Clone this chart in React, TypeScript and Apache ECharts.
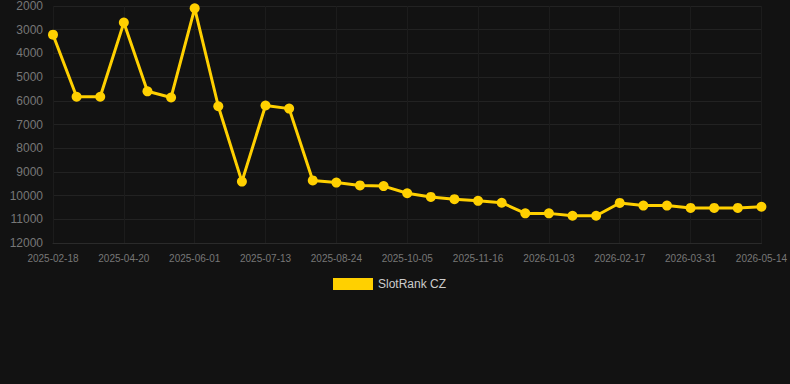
import React, { useEffect, useRef } from "react";
import * as echarts from "echarts";

const categories = [
  "2025-02-18", "2025-03-09", "2025-03-30", "2025-04-20", "2025-05-04", "2025-05-18",
  "2025-06-01", "2025-06-15", "2025-06-29", "2025-07-13", "2025-07-27", "2025-08-10",
  "2025-08-24", "2025-09-07", "2025-09-21", "2025-10-05", "2025-10-19", "2025-11-02",
  "2025-11-16", "2025-11-30", "2025-12-14", "2026-01-03", "2026-01-18", "2026-02-02",
  "2026-02-17", "2026-03-03", "2026-03-17", "2026-03-31", "2026-04-14", "2026-04-28",
  "2026-05-14",
];

const rankValues = [
  3210, 5830, 5830, 2700, 5600, 5860,
  2100, 6230, 9410, 6200, 6330, 9360,
  9450, 9570, 9600, 9900, 10055, 10150,
  10220, 10300, 10750, 10750, 10850, 10850,
  10310, 10420, 10420, 10520, 10520, 10520,
  10470,
];

const seriesName = "SlotRank CZ";

export default function App() {
  const ref = useRef<HTMLDivElement>(null);
  useEffect(() => {
    document.body.style.margin = "0";
    document.body.style.background = "#121212";
    if (!ref.current) return;
    const chart = echarts.init(ref.current, null, { renderer: "svg" });
    chart.setOption({
      animation: false,
      backgroundColor: "#121212",
      textStyle: { fontFamily: "Arial, 'Liberation Sans', sans-serif" },
      grid: { left: 53, right: 28, top: 6, bottom: 141 },
      legend: {
        top: 273,
        left: 328,
        itemWidth: 40,
        itemHeight: 12,
        icon: "rect",
        textStyle: { color: "#cccccc", fontSize: 12 },
        data: [seriesName],
      },
      xAxis: {
        type: "category",
        data: categories,
        boundaryGap: false,
        axisLine: { lineStyle: { color: "#2a2a2a" } },
        axisTick: { show: false },
        axisLabel: { color: "#777777", fontSize: 10, interval: 2, margin: 10, showMaxLabel: true },
        splitLine: { show: true, interval: 2, lineStyle: { color: "#1c1c1c" } },
      },
      yAxis: {
        type: "value",
        inverse: true,
        min: 2000,
        max: 12000,
        interval: 1000,
        axisLine: { show: false },
        axisTick: { show: false },
        axisLabel: { color: "#777777", fontSize: 12, margin: 10, formatter: (v: number) => String(v) },
        splitLine: { lineStyle: { color: "#222222" } },
      },
      series: [
        {
          name: seriesName,
          type: "line",
          data: rankValues,
          symbol: "circle",
          symbolSize: 10,
          lineStyle: { color: "#FFD000", width: 3 },
          itemStyle: { color: "#FFD000" },
        },
      ],
    });
    return () => chart.dispose();
  }, []);
  return <div ref={ref} style={{ width: 790, height: 384 }} />;
}
